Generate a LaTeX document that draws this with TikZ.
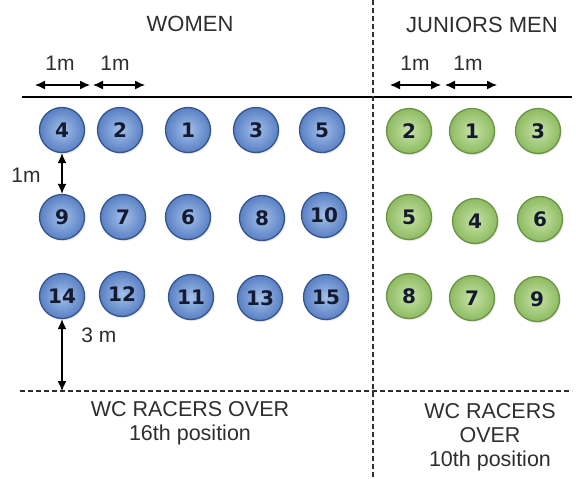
\documentclass[tikz,border=0pt]{standalone}
\usepackage{fontspec}
\setmainfont{Liberation Sans}
\newfontfamily\ballfont{DejaVu Sans}
\usepackage{tikz}
\usetikzlibrary{positioning,arrows.meta,shadows}
\definecolor{ink}      {HTML}{141A30}
\definecolor{greyink}  {HTML}{2E2E2E}
\definecolor{bluelite} {HTML}{A3C0EA}
\definecolor{bluedark} {HTML}{5A80C4}
\definecolor{blueedge} {HTML}{35558F}
\definecolor{greenlite}{HTML}{C8E3A6}
\definecolor{greendark}{HTML}{8DBB62}
\definecolor{greenedge}{HTML}{6A9344}
\tikzset{
  >={Latex[length=10pt,width=9pt]},
  every node/.style={font=\fontsize{20}{24}\selectfont, text=greyink},
  % --- nodes
  ball/.style  = {circle, minimum size=45pt, inner sep=0pt, line width=1.3pt,
                  font=\ballfont\fontsize{20}{20}\selectfont\bfseries, text=ink,
                  drop shadow={opacity=0.2, shadow xshift=1.2pt, shadow yshift=-1.5pt}},
  wball/.style = {ball, draw=blueedge, inner color=bluelite, outer color=bluedark},
  jball/.style = {ball, draw=greenedge, inner color=greenlite, outer color=greendark},
  head/.style  = {font=\fontsize{22}{24}\selectfont},
  lbl/.style   = {font=\fontsize{21}{24}\selectfont},
  note/.style  = {font=\fontsize{21.5}{24}\selectfont, align=center},
  % --- edges
  dim/.style   = {<->, line width=1.3pt, draw=black},
  start/.style = {line width=2.8pt, draw=black},
  split/.style = {line width=1.2pt, draw=greyink, dash pattern=on 5pt off 3pt},
}

\begin{document}
\begin{tikzpicture}[x=1pt,y=-1pt]
  \useasboundingbox (0,0) rectangle (576,479);
  % --- start line and zones
  \coordinate (lineL) at (22,97);  \coordinate (lineR) at (572,97);
  \coordinate (cutL)  at (20,391); \coordinate (cutR)  at (572,391);
  \coordinate (sepT)  at (373,0);  \coordinate (sepB)  at (373,479);
  \draw[start] (lineL) -- (lineR);
  \draw[split] (cutL) -- (cutR);
  \draw[split] (sepT) -- (sepB);
  \node[head] (women)  at (190,24) {WOMEN};
  \node[head] (junior) at (482,25) {JUNIORS MEN};
  % --- spacing along the line
  \coordinate (a1) at (35,85);  \coordinate (a2) at (90,85);
  \coordinate (a3) at (93,85);  \coordinate (a4) at (145,85);
  \coordinate (b1) at (390,85); \coordinate (b2) at (441,85);
  \coordinate (b3) at (445,85); \coordinate (b4) at (497,85);
  \draw[dim] (a1)--(a2); \draw[dim] (a3)--(a4);
  \draw[dim] (b1)--(b2); \draw[dim] (b3)--(b4);
  \node[lbl] (la) at (60,63) {1m};  \node[lbl] (lb) at (115,63) {1m};
  \node[lbl] (lc) at (415,63) {1m}; \node[lbl] (ld) at (468,63) {1m};
  % --- women
  \node[wball] (w4) at (62,130) {4};  \node[wball] (w2) at (120,130) {2};
  \node[wball] (w1) at (188,130) {1}; \node[wball] (w3) at (256,130) {3};
  \node[wball] (w5) at (322,130) {5};
  \node[wball] (w9) at (62,217) {9};  \node[wball] (w7) at (123,217) {7};
  \node[wball] (w6) at (188,217) {6}; \node[wball] (w8) at (262,218) {8};
  \node[wball] (w10) at (324,215) {10};
  \node[wball] (w14) at (62,296) {14};  \node[wball] (w12) at (122,294) {12};
  \node[wball] (w11) at (191,297) {11}; \node[wball] (w13) at (260,298) {13};
  \node[wball] (w15) at (326,297) {15};
  % --- juniors men
  \node[jball] (j2) at (409,131) {2}; \node[jball] (j1) at (472,131) {1};
  \node[jball] (j3) at (538,131) {3};
  \node[jball] (j5) at (409,217) {5}; \node[jball] (j4) at (475,221) {4};
  \node[jball] (j6) at (540,219) {6};
  \node[jball] (j8) at (409,296) {8}; \node[jball] (j7) at (472,298) {7};
  \node[jball] (j9) at (537,299) {9};
  % --- row gaps
  \draw[dim] (w4.south) -- (w9.north);
  \node[lbl] (le) at (26,175) {1m};
  \draw[dim] (w14.south) -- (w14.south |- cutL);
  \node[lbl] (lf) at (99,335) {3 m};
  % --- later starters
  \node[note] (wnote) at (190,423) {WC RACERS OVER\\16th position};
  \node[note] (jnote) at (490,437) {WC RACERS\\OVER\\10th position};
\end{tikzpicture}
\end{document}
